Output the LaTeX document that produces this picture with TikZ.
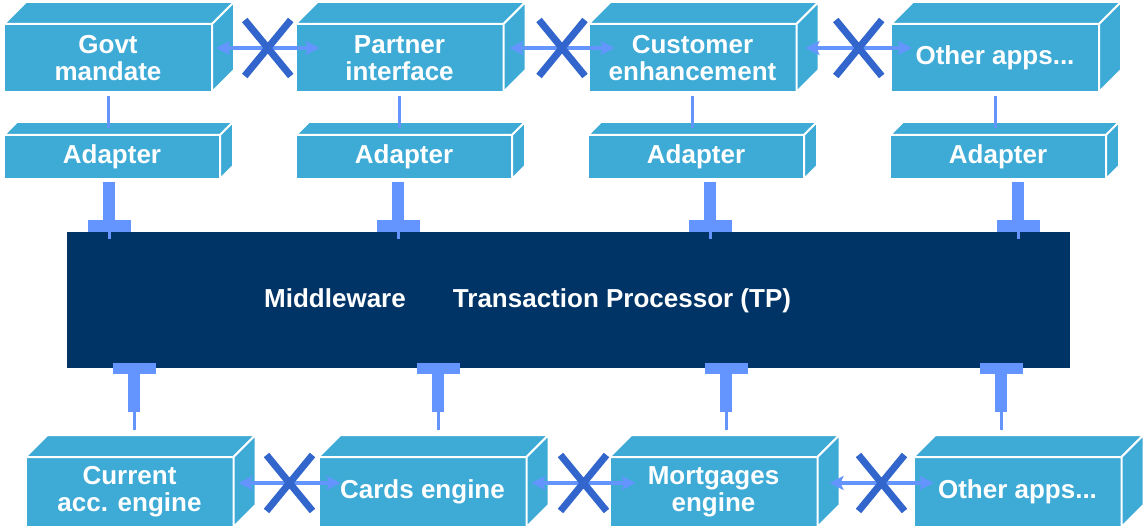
\documentclass[tikz,border=0pt]{standalone}
\usepackage{fontspec}
\setmainfont{Liberation Sans}
\usetikzlibrary{
  arrows.meta,   % Stealth tips on the links
  calc,          % shifted corners of the boxes
  shapes.misc    % cross out over the blocked links
}

\definecolor{boxblue}{RGB}{62,170,214}
\definecolor{tpnavy}{RGB}{0,51,102}
\definecolor{plugblue}{RGB}{100,149,255}
\definecolor{crossblue}{RGB}{51,102,204}

\begin{document}
\begin{tikzpicture}[x=0.5pt, y=-0.5pt,
  >={Stealth[length=7pt,width=7pt,inset=1.5pt]},
  front/.style={rectangle, fill=boxblue, draw=white, line width=1pt,
    inner sep=0pt, outer sep=0pt, text=white, align=center,
    font=\fontsize{13}{13.5}\selectfont\bfseries},
  appbox/.style={front, minimum width=104pt, minimum height=34pt},
  adapter/.style={front, minimum width=108pt, minimum height=22pt},
  engine/.style={front, minimum width=104pt, minimum height=35pt},
  face/.style={fill=boxblue, draw=white, line width=1pt, line join=round},
  wire/.style={draw=plugblue, line width=1.5pt},
  stem/.style={draw=plugblue, line width=6pt},
  link/.style={<->, draw=plugblue, line width=2pt},
  blocked/.style={cross out, draw=crossblue, line width=3.5pt,
    minimum width=23pt, minimum height=28pt, inner sep=0pt, outer sep=0pt}]

  % page in pixels of the original, y running down
  \useasboundingbox (0,0) rectangle (1144,529);

  % =============== applications (top row) ===============
  \node[appbox] (govt)     at (108,58)   {Govt\\mandate};
  \node[appbox] (partner)  at (399.5,58) {Partner\\interface};
  \node[appbox] (customer) at (692.5,58) {Customer\\enhancement};
  \node[appbox] (otherapp) at (995,58)   {Other apps...};

  % =============== adapters ===============
  \node[adapter] (ad1) at (112,157) {Adapter};
  \node[adapter] (ad2) at (404,157) {Adapter};
  \node[adapter] (ad3) at (696,157) {Adapter};
  \node[adapter] (ad4) at (998,157) {Adapter};

  % =============== engines (bottom row) ===============
  \node[engine] (current)   at (129.5,492)  {Current\\acc. engine};
  \node[engine] (cards)     at (422.5,492)  {Cards engine};
  \node[engine] (mortgages) at (713.5,492)  {Mortgages\\engine};
  \node[engine] (othereng)  at (1017.5,492) {Other apps...};

  % top and side faces of every box (name/depth)
  \foreach \n/\d in {govt/22, partner/22, customer/22, otherapp/22,
                     ad1/13, ad2/13, ad3/13, ad4/13,
                     current/22, cards/22, mortgages/22, othereng/22} {
    \draw[face] (\n.north west) -- ++(\d,-\d)
      -- ($(\n.north east)+(\d,-\d)$) -- (\n.north east) -- cycle;
    \draw[face] (\n.north east) -- ++(\d,-\d)
      -- ($(\n.south east)+(\d,-\d)$) -- (\n.south east) -- cycle;
  }

  % =============== middleware block ===============
  \node[rectangle, fill=tpnavy, inner sep=0pt, outer sep=0pt,
    minimum width=501.5pt, minimum height=68pt] (tp) at (568.5,300) {};
  \node[anchor=base, text=white, font=\fontsize{13}{13.5}\selectfont\bfseries]
    (mwtext) at (335,307) {Middleware};
  \node[anchor=base, text=white, font=\fontsize{13}{13.5}\selectfont\bfseries]
    (tptext) at (622,307) {Transaction Processor (TP)};

  % application -> adapter
  \foreach \a/\b in {govt/ad1, partner/ad2, customer/ad3, otherapp/ad4}
    \draw[wire] ([yshift=-2pt]\a.south) -- ([yshift=3.5pt]\a.south |- \b.north);

  % plugs from the adapters into the middleware
  \coordinate (pin1) at (109,232);
  \coordinate (pin2) at (398,232);
  \coordinate (pin3) at (710,232);
  \coordinate (pin4) at (1018,232);
  \foreach \a/\p in {ad1/pin1, ad2/pin2, ad3/pin3, ad4/pin4} {
    \draw[stem] ([yshift=-1.5pt]\a.south -| \p) -- ([yshift=6pt]\p);
    \fill[plugblue] ([shift={(-21.5,-12)}]\p) rectangle ([shift={(21.5,0)}]\p);
    \draw[wire] (\p) -- ([yshift=-3.5pt]\p);
  }

  % plugs from the middleware down to the engines
  \coordinate (pout1) at (134,368);
  \coordinate (pout2) at (438,368);
  \coordinate (pout3) at (726,368);
  \coordinate (pout4) at (1001,368);
  \foreach \e/\q in {current/pout1, cards/pout2, mortgages/pout3, othereng/pout4} {
    \fill[plugblue] ([shift={(-21.5,-5)}]\q) rectangle ([shift={(21.5,6)}]\q);
    \draw[stem] ([shift={(0,6)}]\q) -- ([shift={(0,44)}]\q);
    \draw[wire] ([shift={(0,44)}]\q) -- ([yshift=13.5pt]\e.north -| \q);
  }

  % =============== blocked point-to-point links ===============
  \draw[link] ([shift={(4,-10)}]govt.east) -- node[blocked] {} ([shift={(24,-10)}]partner.west);
  \draw[link] ([shift={(6,-10)}]partner.east) -- node[blocked] {} ([shift={(26,-10)}]customer.west);
  \draw[link] ([shift={(9,-10)}]customer.east) -- node[blocked] {} ([shift={(21,-10)}]otherapp.west);

  \draw[link] ([shift={(5,-9)}]current.east) -- node[blocked] {} ([shift={(22,-9)}]cards.west);
  \draw[link] ([shift={(5,-9)}]cards.east) -- node[blocked] {} ([shift={(26,-9)}]mortgages.west);
  \draw[link] ([shift={(12,-9)}]mortgages.east) -- node[blocked] {} ([shift={(20,-9)}]othereng.west);

\end{tikzpicture}
\end{document}
